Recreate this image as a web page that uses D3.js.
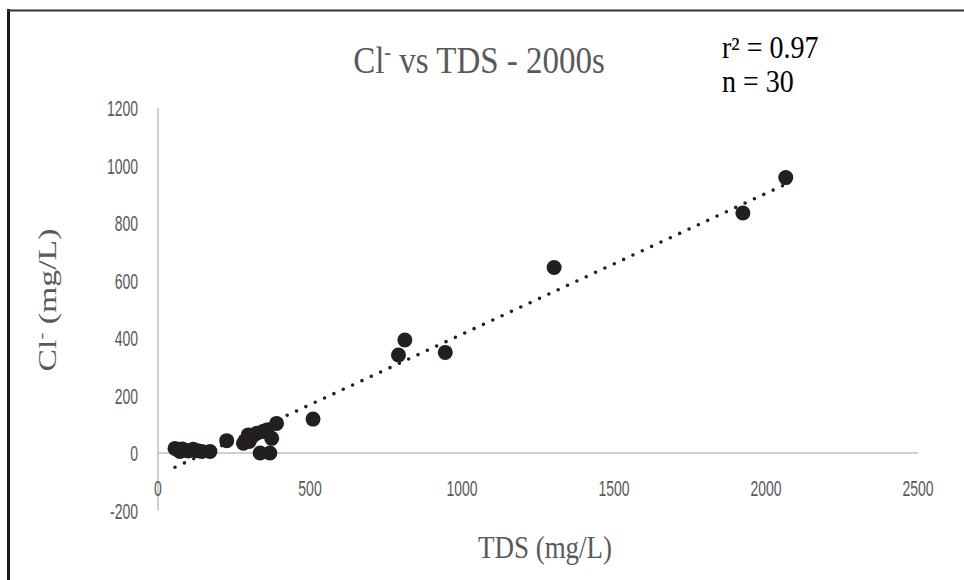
<!DOCTYPE html>
<html>
<head>
<meta charset="utf-8">
<script src="https://cdn.jsdelivr.net/npm/d3@7"></script>
<style>
  body { margin: 0; background: #fff; }
  svg { display: block; }
</style>
</head>
<body>
<svg id="chart" width="964" height="580"></svg>
<script>
// TDS vs chloride, 2000s samples (mg/L)
const tds = [56, 65, 72, 80, 89, 100, 116, 130, 144, 171,
             226, 281, 290, 297, 300, 310, 325, 336, 345, 358, 368, 374, 390,
             510, 791, 812, 945, 1303, 1924, 2065]
const chloride = [16, 12, 5, 14, 10, 7, 13, 8, 5, 5,
                  43, 34, 45, 63, 40, 58, 69, 0, 75, 80, 0, 51, 103,
                  118, 341, 393, 350, 645, 835, 958]

// linear trendline shown on the chart (Cl = slope * TDS + intercept)
const trendSlope = 0.49
const trendIntercept = -77

const xTicks = [0, 500, 1000, 1500, 2000, 2500]
const yTicks = [-200, 0, 200, 400, 600, 800, 1000, 1200]

const svg = d3.select("#chart")

const x = d3.scaleLinear().domain([0, 2500]).range([158, 918])
const y = d3.scaleLinear().domain([-200, 1200]).range([510.5, 108])

const TICK_FONT = "'Liberation Sans', Arial, sans-serif"
const SERIF = "'Liberation Serif', 'Times New Roman', serif"
const GREY = "#595959"

// the source picture is stretched vertically, so text is too
const TICK_SCALE = "scale(0.7, 1.12)"

/* FRAME */
svg.append("line")
    .attr("x1", 8.5).attr("x2", 8.5)
    .attr("y1", 9).attr("y2", 580)
    .style("stroke", "#1a1a1a").style("stroke-width", 3)
svg.append("line")
    .attr("x1", 7).attr("x2", 964)
    .attr("y1", 10.5).attr("y2", 10.5)
    .style("stroke", "#333").style("stroke-width", 2)

/* AXES */
svg.append("line")
    .attr("x1", x(0)).attr("x2", x(0))
    .attr("y1", y(1200)).attr("y2", y(-200))
    .style("stroke", "#bfbfbf").style("stroke-width", 1.5)
svg.append("line")
    .attr("x1", x(0)).attr("x2", x(2500))
    .attr("y1", y(0)).attr("y2", y(0))
    .style("stroke", "#bfbfbf").style("stroke-width", 1.5)

svg.append("g")
    .selectAll("text")
    .data(yTicks)
    .join("text")
    .attr("transform", d => `translate(138, ${y(d) + 8}) ${TICK_SCALE}`)
    .attr("text-anchor", "end")
    .style("font-family", TICK_FONT)
    .style("font-size", "20px")
    .style("fill", GREY)
    .text(d => d)

svg.append("g")
    .selectAll("text")
    .data(xTicks)
    .join("text")
    .attr("transform", d => `translate(${x(d)}, 496) ${TICK_SCALE}`)
    .attr("text-anchor", "middle")
    .style("font-family", TICK_FONT)
    .style("font-size", "20px")
    .style("fill", GREY)
    .text(d => d)

/* TRENDLINE (dotted) */
const tdsExtent = d3.extent(tds)
svg.append("line")
    .attr("x1", x(tdsExtent[0]))
    .attr("y1", y(trendSlope * tdsExtent[0] + trendIntercept))
    .attr("x2", x(tdsExtent[1]))
    .attr("y2", y(trendSlope * tdsExtent[1] + trendIntercept))
    .style("stroke", "#231f20")
    .style("stroke-width", 3.6)
    .style("stroke-linecap", "round")
    .style("stroke-dasharray", "0 10.3")

/* POINTS */
svg.append("g")
    .selectAll("circle")
    .data(tds.map((t, i) => ({ tds: t, cl: chloride[i] })))
    .join("circle")
    .attr("cx", d => x(d.tds))
    .attr("cy", d => y(d.cl))
    .attr("r", 7.5)
    .style("fill", "#231f20")

/* TITLES */
const title = svg.append("text")
    .attr("transform", "translate(479, 73) scale(1, 1.15)")
    .attr("text-anchor", "middle")
    .style("font-family", SERIF)
    .style("font-size", "33px")
    .style("fill", GREY)
title.append("tspan").text("Cl")
title.append("tspan").attr("dy", -11).style("font-size", "20px").text("-")
title.append("tspan").attr("dy", 11).text(" vs TDS - 2000s")

svg.append("text")
    .attr("transform", "translate(722, 58) scale(1, 1.1)")
    .style("font-family", SERIF)
    .style("font-size", "28px")
    .style("fill", "#000")
    .text("r² = 0.97")
svg.append("text")
    .attr("transform", "translate(722, 92) scale(1, 1.1)")
    .style("font-family", SERIF)
    .style("font-size", "28px")
    .style("fill", "#000")
    .text("n = 30")

svg.append("text")
    .attr("transform", "translate(545, 558) scale(1, 1.15)")
    .attr("text-anchor", "middle")
    .style("font-family", SERIF)
    .style("font-size", "27px")
    .style("fill", GREY)
    .text("TDS (mg/L)")

const yLabel = svg.append("text")
    .attr("transform", "translate(56, 300) rotate(-90) scale(1.3, 1)")
    .attr("text-anchor", "middle")
    .style("font-family", SERIF)
    .style("font-size", "26px")
    .style("fill", GREY)
yLabel.append("tspan").text("Cl")
yLabel.append("tspan").attr("dy", -9).style("font-size", "16px").text("-")
yLabel.append("tspan").attr("dy", 9).text("  (mg/L)")
</script>
</body>
</html>
